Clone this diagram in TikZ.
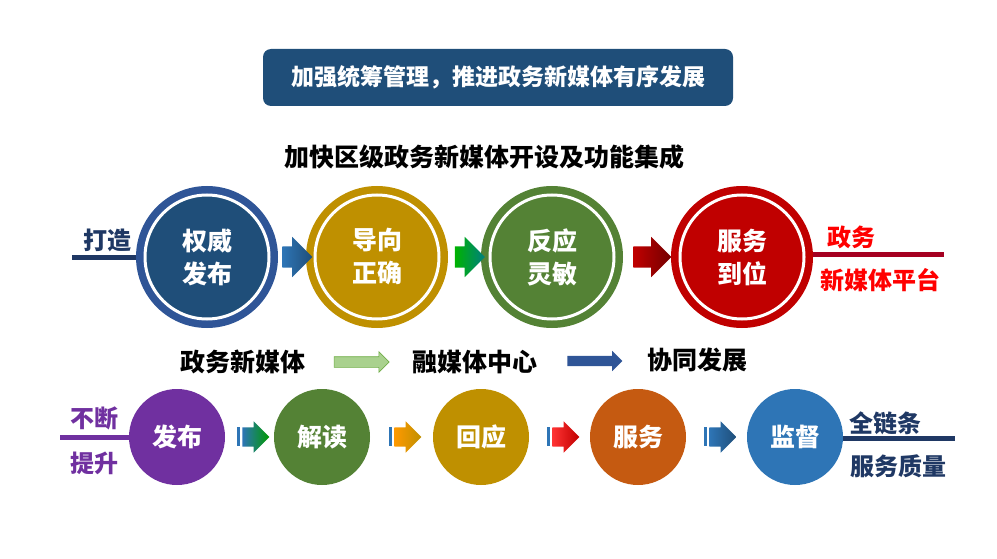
\documentclass[tikz,border=0pt]{standalone}
\usepackage{fontspec}
\setmainfont{Noto Sans CJK SC}
\usetikzlibrary{shapes.arrows,positioning,calc,backgrounds}
\definecolor{titleblue}{HTML}{1F4E79}
\definecolor{ringblue}{HTML}{2F5597}
\definecolor{navy}{HTML}{1F3864}
\definecolor{gold}{HTML}{BF9000}
\definecolor{leaf}{HTML}{548235}
\definecolor{crimson}{HTML}{C00000}
\definecolor{violet}{HTML}{7030A0}
\definecolor{rust}{HTML}{C55A11}
\definecolor{sky}{HTML}{2E75B6}
\definecolor{mint}{HTML}{A9D18E}
\definecolor{mintline}{HTML}{70AD47}
\definecolor{maroon}{HTML}{A50021}
\begin{document}
\begin{tikzpicture}[x=1pt,y=-1pt,
  wheel/.style = {circle, minimum size=142pt, inner sep=0pt},
  ring/.style = {circle, draw=white, line width=3pt, minimum size=124pt, inner sep=0pt,
    text=white, align=center, font=\fontsize{25}{33}\selectfont\bfseries},
  dot/.style = {circle, minimum size=96pt, inner sep=0pt, text=white,
    font=\fontsize{25}{30}\selectfont\bfseries},
  barrow/.style = {single arrow, single arrow head extend=9.5pt, inner sep=0pt},
  tailbar/.style = {minimum width=3pt, minimum height=19pt, inner sep=0pt},
  side/.style = {font=\fontsize{24}{28}\selectfont\bfseries},
  stage/.style = {font=\fontsize{25}{30}\selectfont\bfseries}]
\useasboundingbox (0,0) rectangle (997,559);

% title
\node[fill=titleblue, rounded corners=8pt, minimum width=470pt, minimum height=57pt,
  text=white, font=\fontsize{23}{28}\selectfont\bfseries] (title) at (498,77.5)
  {加强统筹管理，推进政务新媒体有序发展};
\node[stage] (sub) at (484,157) {加快区级政务新媒体开设及功能集成};

% upper row
\node[wheel, fill=ringblue] (w1) at (207,257) {};
\node[ring, fill=titleblue] (r1) at (w1) {权威\\发布};
\node[wheel, fill=gold] (w2) at (377,257) {};
\node[ring, fill=gold] (r2) at (w2) {导向\\正确};
\node[wheel, fill=leaf] (w3) at (552,257) {};
\node[ring, fill=leaf] (r3) at (w3) {反应\\灵敏};
\node[wheel, fill=crimson] (w4) at (742,257) {};
\node[ring, fill=crimson] (r4) at (w4) {服务\\到位};

\node[barrow, minimum height=30pt, left color=sky, right color=titleblue]
  (a1) at ($(w1.east)!0.5!(w2.west)$) {\rule{0pt}{21pt}};
\node[barrow, minimum height=30pt, left color=green!70!black, right color=teal]
  (a2) at ($(w2.east)!0.5!(w3.west)$) {\rule{0pt}{21pt}};
\node[barrow, minimum height=38pt, left color=crimson, right color=crimson!60!black]
  (a3) at ($(w3.east)!0.5!(w4.west)$) {\rule{0pt}{21pt}};

\coordinate (make) at (72,257);
\node[side, text=navy] (lmake) at (107,240) {打造};
\coordinate (plat) at (944,254);
\node[side, text=red] (lgov) at (851,237) {政务};
\node[side, text=red] (lplat) at (880,280) {新媒体平台};

% middle line
\node[stage] (m1) at (243,362) {政务新媒体};
\node[stage] (m2) at (475,362) {融媒体中心};
\node[stage] (m3) at (697,360) {协同发展};
\node[barrow, minimum height=55pt, fill=mint, draw=mintline, line width=0.6pt,
  single arrow head extend=5pt] (b1) at ($(m1.east)!0.5!(m2.west)$) {\rule{0pt}{10pt}};
\node[barrow, minimum height=55pt, fill=ringblue, single arrow head extend=5pt]
  (b2) at ($(m2.east)!0.5!(m3.west)$) {\rule{0pt}{10pt}};

% lower row
\node[dot, fill=violet] (d1) at (177,437) {发布};
\node[dot, fill=leaf] (d2) at (322,437) {解读};
\node[dot, fill=gold] (d3) at (481,437) {回应};
\node[dot, fill=rust] (d4) at (638,437) {服务};
\node[dot, fill=sky] (d5) at (795,437) {监督};

\node[barrow, minimum height=27pt, left color=sky, right color=green!60!black,
  single arrow head extend=6pt] (c1) at ($(d1.east)!0.5!(d2.west)+(1.5,0)$) {\rule{0pt}{19pt}};
\node[tailbar, fill=sky] (t1) [left=1.5pt of c1.west] {};
\node[barrow, minimum height=27pt, left color=orange!80!yellow, right color=gold,
  single arrow head extend=6pt] (c2) at ($(d2.east)!0.5!(d3.west)+(1.5,0)$) {\rule{0pt}{19pt}};
\node[tailbar, fill=sky] (t2) [left=1.5pt of c2.west] {};
\node[barrow, minimum height=27pt, left color=red!80!white, right color=crimson,
  single arrow head extend=6pt] (c3) at ($(d3.east)!0.5!(d4.west)+(1.5,0)$) {\rule{0pt}{19pt}};
\node[tailbar, fill=sky] (t3) [left=1.5pt of c3.west] {};
\node[barrow, minimum height=27pt, left color=sky, right color=titleblue,
  single arrow head extend=6pt] (c4) at ($(d4.east)!0.5!(d5.west)+(1.5,0)$) {\rule{0pt}{19pt}};
\node[tailbar, fill=sky] (t4) [left=1.5pt of c4.west] {};

\coordinate (keep) at (60,437);
\node[side, text=violet] (lkeep) at (94,418) {不断};
\node[side, text=violet] (lup) at (94,463) {提升};
\coordinate (chain) at (955,438);
\node[side, text=navy] (lchain) at (885,423) {全链条};
\node[side, text=navy] (lqual) at (898,466) {服务质量};

% side lines behind the circles
\begin{scope}[on background layer]
\draw[navy, line width=5pt] (make) -- (w1.center);
\draw[maroon, line width=5pt] (w4.center |- plat) -- (plat);
\draw[violet, line width=5pt] (keep) -- (d1.center);
\draw[navy, line width=5pt] (d5.center |- chain) -- (chain);
\end{scope}
\end{tikzpicture}
\end{document}
